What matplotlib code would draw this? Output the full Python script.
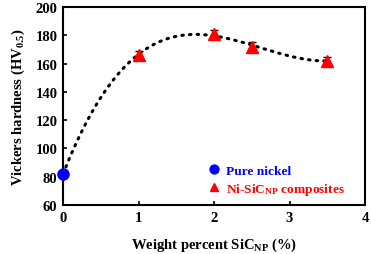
import numpy as np
import matplotlib
matplotlib.use("Agg")
import matplotlib.pyplot as plt

plt.rcParams['font.family'] = ['Liberation Serif', 'DejaVu Serif']
plt.rcParams['font.weight'] = 'bold'
plt.rcParams['mathtext.fontset'] = 'custom'
plt.rcParams['mathtext.rm'] = 'Liberation Serif:bold'
plt.rcParams['mathtext.it'] = 'Liberation Serif:bold'
plt.rcParams['mathtext.bf'] = 'Liberation Serif:bold'

nickel_x = [0]
nickel_y = [82]
comp_x = [1, 2, 2.5, 3.5]
comp_y = [166, 181, 172, 162]
comp_err = [3, 3, 3, 3]

fig = plt.figure(figsize=(3.71, 2.55), dpi=100)
ax = fig.add_axes([63/371, 1-206/255, (365-63)/371, (206-8)/255])

all_x = np.array(nickel_x + comp_x, dtype=float)
all_y = np.array(nickel_y + comp_y, dtype=float)
coef = np.polyfit(all_x, all_y, 3)
xs = np.linspace(0, 3.5, 200)
ax.plot(xs, np.polyval(coef, xs), color='black', linestyle=(0, (0.5, 2.0)),
        linewidth=2.2, dash_capstyle='round', zorder=2)

ax.errorbar(comp_x, comp_y, yerr=comp_err, fmt='none', ecolor='black',
            elinewidth=1, capsize=3, zorder=3)
ax.plot(comp_x, comp_y, linestyle='none', marker='^', color='red',
        markersize=8, label=r'Ni-SiC$_{\mathrm{NP}}$ composites', zorder=4)
ax.plot(nickel_x, nickel_y, linestyle='none', marker='o', color='blue',
        markersize=8, label='Pure nickel', zorder=5, clip_on=False)

ax.set_xlim(0, 4)
ax.set_ylim(60, 200)
ax.set_xticks([0, 1, 2, 3, 4])
ax.set_yticks([60, 80, 100, 120, 140, 160, 180, 200])
ax.tick_params(direction='in', length=3, width=1.2, labelsize=10.5, pad=4)
for s in ax.spines.values():
    s.set_linewidth(1.5)

ax.set_xlabel(r'Weight percent SiC$_{\mathrm{NP}}$ (%)', fontsize=10.5, fontweight='bold', labelpad=9)
ax.set_ylabel(r'Vickers hardness (HV$_{0.5}$)', fontsize=10.5, fontweight='bold', labelpad=6)

handles, labels = ax.get_legend_handles_labels()
leg = ax.legend([handles[1], handles[0]], [labels[1], labels[0]], loc='lower left',
                frameon=False, fontsize=9.6, handletextpad=0.4, borderaxespad=0.0,
                handlelength=1.0, labelspacing=0.3, markerscale=0.8,
                bbox_to_anchor=(0.46, 0.015))
leg.get_texts()[0].set_color('blue')
leg.get_texts()[1].set_color('red')

fig.savefig('out.png', dpi=100)
